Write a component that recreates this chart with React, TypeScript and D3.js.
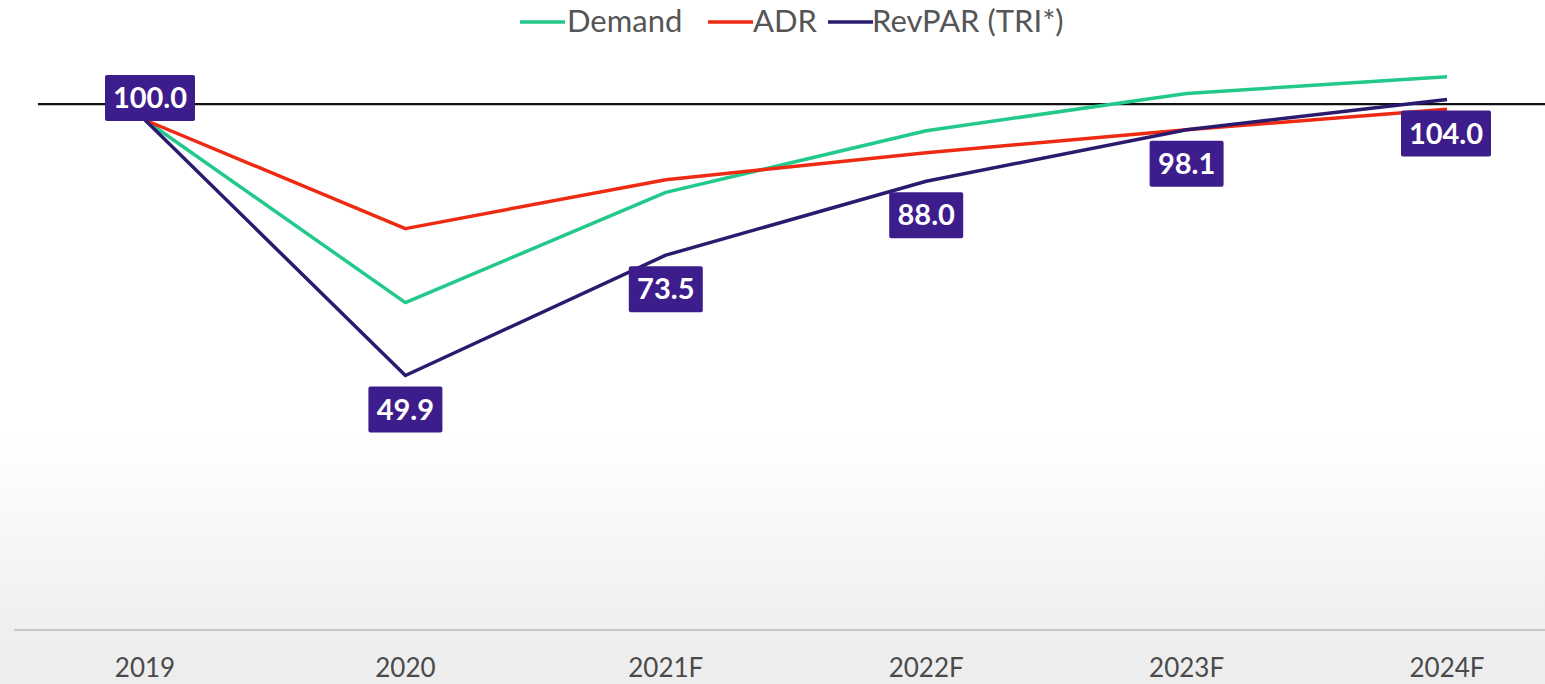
import React from "react";
import * as d3 from "d3";

const categories = ["2019", "2020", "2021F", "2022F", "2023F", "2024F"];
const demand = [100, 64.2, 85.8, 97.9, 105.2, 108.5];
const adr = [100, 78.7, 88.3, 93.6, 98.1, 102.1];
const revpar = [100, 49.9, 73.5, 88.0, 98.1, 104.0];
const seriesNames = ["Demand", "ADR", "RevPAR (TRI*)"];
const seriesColors = ["#22c98b", "#ee2a12", "#2b1a6e"];
const referenceValue = 103.1;

const W = 1545;
const H = 684;

export default function App() {
  const x = d3.scalePoint<string>().domain(categories).range([145, 1447]);
  const y = d3.scaleLinear().domain([0, 120]).range([630, 18]);
  const line = d3
    .line<number>()
    .x((_, i) => x(categories[i]) as number)
    .y((d) => y(d));
  const allSeries = [demand, adr, revpar];
  const font = "Lato, 'Open Sans', 'DejaVu Sans', sans-serif";

  const legendItems = [
    { lx: 520, tx: 567 },
    { lx: 708, tx: 753 },
    { lx: 828, tx: 872 },
  ];

  return (
    <svg
      width={W}
      height={H}
      style={{ position: "absolute", left: 0, top: 0, display: "block" }}
    >
      <defs>
        <linearGradient id="bg" x1="0" y1="0" x2="0" y2="1">
          <stop offset="0" stopColor="#ffffff" />
          <stop offset="0.64" stopColor="#ffffff" />
          <stop offset="0.9" stopColor="#f0f0f0" />
          <stop offset="1" stopColor="#ededed" />
        </linearGradient>
      </defs>
      <rect x={0} y={0} width={W} height={H} fill="url(#bg)" />

      {/* Legend */}
      {seriesNames.map((n, i) => (
        <g key={n}>
          <line
            x1={legendItems[i].lx}
            x2={legendItems[i].lx + 45}
            y1={22}
            y2={22}
            stroke={seriesColors[i]}
            strokeWidth={3.5}
          />
          <text
            x={legendItems[i].tx}
            y={32}
            fontFamily={font}
            fontSize={31}
            fill="#555"
          >
            {n}
          </text>
        </g>
      ))}

      {/* axis line */}
      <line x1={14} x2={W} y1={y(0)} y2={y(0)} stroke="#c8c8c8" strokeWidth={2} />
      {categories.map((c) => (
        <text
          key={c}
          x={x(c)}
          y={677}
          textAnchor="middle"
          fontFamily={font}
          fontSize={26}
          fill="#4a4a4a"
        >
          {c}
        </text>
      ))}

      {/* reference line */}
      <line
        x1={38}
        x2={W}
        y1={y(referenceValue)}
        y2={y(referenceValue)}
        stroke="#111"
        strokeWidth={2.2}
      />

      {/* series */}
      {allSeries.map((s, i) => (
        <path
          key={i}
          d={line(s) || ""}
          fill="none"
          stroke={seriesColors[i]}
          strokeWidth={3.5}
          strokeLinejoin="round"
        />
      ))}

      {/* data labels */}
      {revpar.map((v, i) => {
        const label = v.toFixed(1);
        const cx = (x(categories[i]) as number) + (i === 0 ? 5 : 0) + (i === 5 ? -1 : 0);
        const cy = y(v) + (i === 0 ? -22 : 34);
        const w = label.length > 4 ? 90 : 74;
        const h = 46;
        return (
          <g key={i}>
            <rect
              x={cx - w / 2}
              y={cy - h / 2}
              width={w}
              height={h}
              fill="#3d1d8c"
              rx={2}
            />
            <text
              x={cx}
              y={cy + 10}
              textAnchor="middle"
              fontFamily={font}
              fontWeight="bold"
              fontSize={29}
              fill="#ffffff"
            >
              {label}
            </text>
          </g>
        );
      })}
    </svg>
  );
}
